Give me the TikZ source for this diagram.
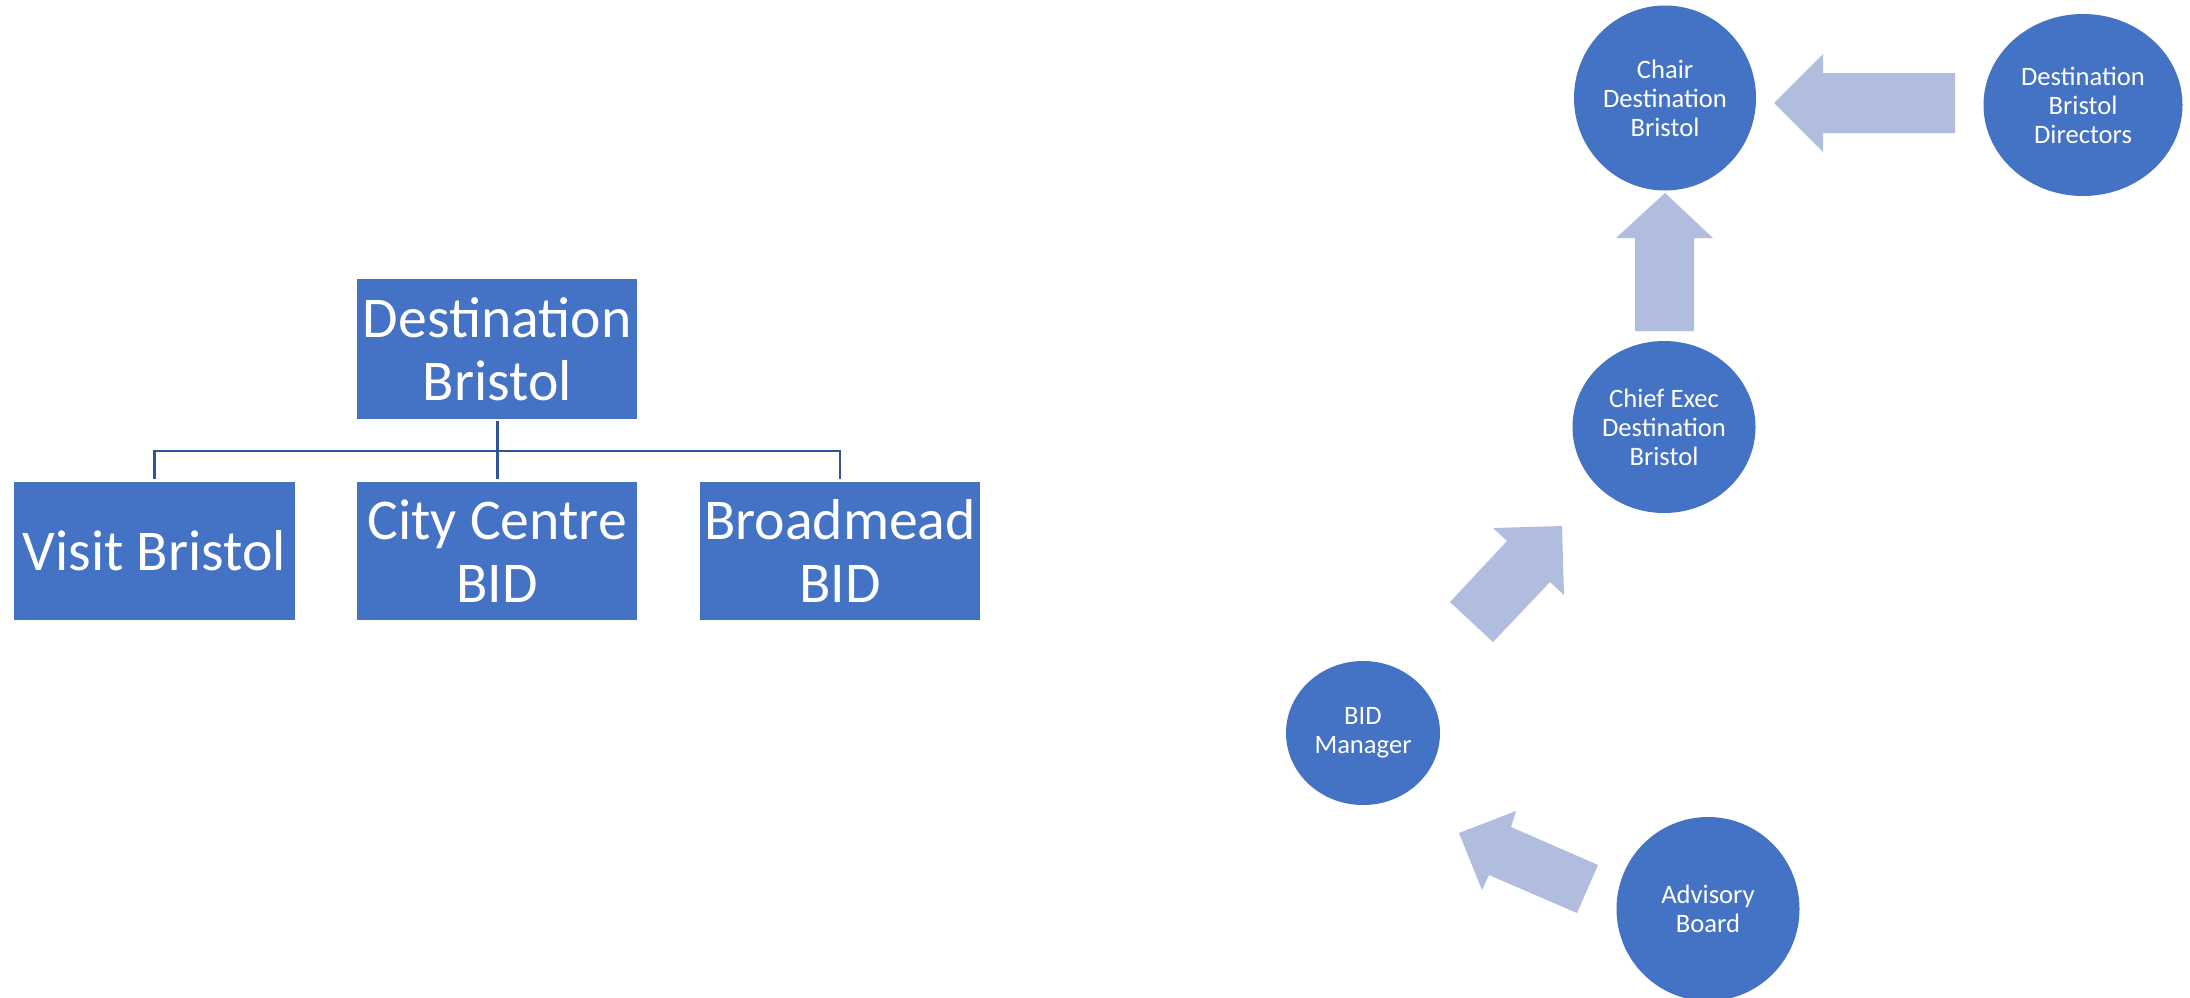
\documentclass[tikz,border=0pt]{standalone}
\usepackage{fontspec}
\setmainfont{Carlito}
\usetikzlibrary{shapes.geometric}
\definecolor{boxblue}{HTML}{4472C4}
\definecolor{arrowblue}{HTML}{B0BDDF}
\definecolor{linkblue}{HTML}{2F5597}
\begin{document}
\begin{tikzpicture}[x=1pt, y=-1pt,
  box/.style={rectangle, fill=boxblue, text=white, inner sep=0pt,
    minimum width=280pt, minimum height=138pt, align=center,
    font=\fontsize{57.7}{63}\selectfont},
  circ/.style={ellipse, fill=boxblue, text=white, inner sep=0pt, align=center,
    font=\fontsize{26.6}{29}\selectfont},
  blockarrow/.style={fill=arrowblue},
  conn/.style={draw=linkblue, line width=2.5pt}]
\fill[white] (0,0) rectangle (2190,997);
\useasboundingbox (0,0) rectangle (2190,997);
% left org chart
\node[box, minimum height=140pt] (top) at (497.25,349) {Destination\\Bristol};
\node[box, minimum width=281pt] (visit) at (154.5,551) {Visit Bristol};
\node[box] (city) at (497.25,551) {City Centre\\BID};
\node[box] (broad) at (840,551) {Broadmead\\BID};
\coordinate (bus) at (497.25,451);
\draw[conn] ([yshift=-2pt]top.south) -- ([yshift=3pt]city.north);
\draw[conn] ([yshift=3pt]visit.north) |- (bus) -| ([yshift=3pt]broad.north);
% right circles
\node[circ, minimum width=182pt, minimum height=185pt] (chair) at (1665,98) {Chair\\Destination\\Bristol};
\node[circ, minimum width=199pt, minimum height=182pt] (dirs) at (2083,105) {Destination\\Bristol\\Directors};
\node[circ, minimum width=183pt, minimum height=172pt] (ceo) at (1664,427) {Chief Exec\\Destination\\Bristol};
\node[circ, minimum width=154pt, minimum height=144pt] (bidm) at (1363,733) {BID\\Manager};
\node[circ, minimum width=183pt, minimum height=184pt] (adv) at (1708,909) {Advisory\\Board};
% block arrows
\fill[blockarrow] (1774,103) -- (1823,54) -- (1823,73) -- (1955,73) -- (1955,133)
  -- (1823,133) -- (1823,152) -- cycle;
\fill[blockarrow] (1665,193) -- (1713,238) -- (1694,238) -- (1694,331) -- (1635,331)
  -- (1635,238) -- (1616,238) -- cycle;
\fill[blockarrow] (1562,526) -- (1564,595) -- (1550,582) -- (1493,642) -- (1450,602)
  -- (1507,541) -- (1493,528) -- cycle;
\fill[blockarrow] (1459,833) -- (1516,811) -- (1511,827) -- (1598,865) -- (1577,913)
  -- (1489,875) -- (1482,890) -- cycle;
\end{tikzpicture}
\end{document}
